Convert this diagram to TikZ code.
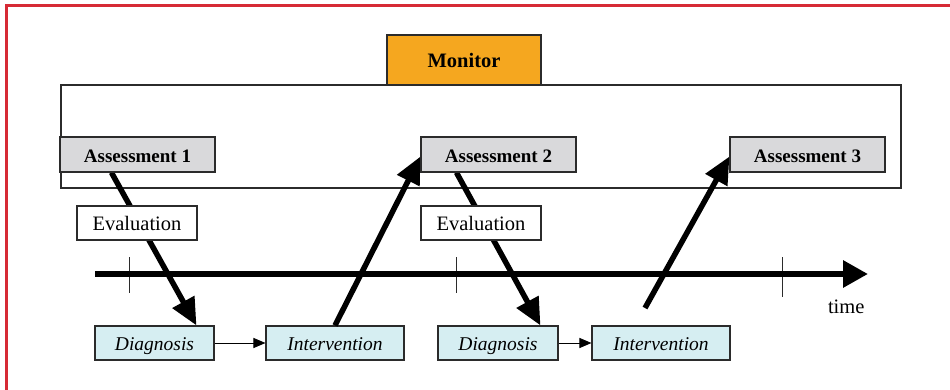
\documentclass[tikz,border=0pt]{standalone}
\usepackage{fontspec}
\setmainfont{Liberation Serif}
\usetikzlibrary{arrows.meta,calc}
\definecolor{monorange}{HTML}{F5A71F}
\definecolor{assgray}{HTML}{D9D9DB}
\definecolor{lcyan}{HTML}{D6EEF2}
\definecolor{bordred}{HTML}{D62A35}
\definecolor{edge}{HTML}{2B2B2B}
\tikzset{
  box/.style={draw=edge, line width=1.1pt, inner sep=0pt, minimum height=34pt,
    text height=15.5pt, text depth=0pt, font=\fontsize{19}{22}\selectfont},
  monbox/.style={box, fill=monorange, minimum width=154pt, minimum height=50pt, font=\fontsize{20.5}{24}\selectfont\bfseries},
  assbox/.style={box, fill=assgray, minimum width=155pt, minimum height=35pt, font=\fontsize{19}{22}\selectfont\bfseries},
  evalbox/.style={box, fill=white, minimum width=120pt, font=\fontsize{20.5}{24}\selectfont},
  actbox/.style={box, fill=lcyan, font=\fontsize{19.5}{22}\selectfont\itshape},
  bigarrow/.style={line width=5.5pt, -{Triangle[length=27pt,width=24pt]}},
  thinarrow/.style={line width=1pt, -{Triangle[length=12pt,width=10pt]}},
  tickmark/.style={line width=1pt, draw=edge},
}
\begin{document}
\begin{tikzpicture}[x=1pt,y=-1pt]
\useasboundingbox (0,0) rectangle (950,390);
% red border
\draw[bordred, line width=3pt] (6,392) -- (6,6) -- (952,6);
% frame
\node[draw=edge, line width=1.1pt, minimum width=840pt, minimum height=103pt, inner sep=0pt] (frame) at (481,136.5) {};
\node[monbox] (mon) at (464,60) {Monitor};
% coordinates
\coordinate (t0) at (95,274);
\coordinate (t1) at (868,274);
\coordinate (s3) at (645,308);
% nodes (placed now for anchors, drawn later on top)
\path node[assbox] (a1) at (137.5,154.5) {Assessment 1}
      node[assbox] (a2) at (498.5,154.5) {Assessment 2}
      node[assbox] (a3) at (807.5,154.5) {Assessment 3};
% ticks
\draw[tickmark] (129,257) -- (129,293);
\draw[tickmark] (456,257) -- (456,293);
\draw[tickmark] (782,257) -- (782,297);
% timeline
\draw[line width=6pt, -{Triangle[length=25pt,width=26pt]}] (t0) -- (t1);
\node[font=\fontsize{20.5}{24}\selectfont, anchor=base east] (time) at (868,313) {time};
% activity boxes
\node[actbox, minimum width=119pt] (d1) at (154.5,343) {Diagnosis};
\node[actbox, minimum width=138pt] (i1) at (335,343) {Intervention};
\node[actbox, minimum width=120pt] (d2) at (498,343) {Diagnosis};
\node[actbox, minimum width=138pt] (i2) at (661,343) {Intervention};
% thick arrows
\draw[bigarrow] ($(a1.south west)+(52,0)$) -- ($(d1.north west)+(102,0)$);
\draw[bigarrow] (i1.north) -- ($(a2.west)+(0,2)$);
\draw[bigarrow] ($(a2.south west)+(36,0)$) -- ($(d2.north west)+(103,0)$);
\draw[bigarrow] (s3) -- ($(a3.west)+(0,2)$);
% boxes on top
\node[assbox] at (a1) {Assessment 1};
\node[assbox] at (a2) {Assessment 2};
\node[assbox] at (a3) {Assessment 3};
\node[evalbox] (e1) at (137,223) {Evaluation};
\node[evalbox] (e2) at (481,223) {Evaluation};
% thin arrows
\draw[thinarrow] (d1) -- (i1);
\draw[thinarrow] (d2) -- (i2);
\end{tikzpicture}
\end{document}
